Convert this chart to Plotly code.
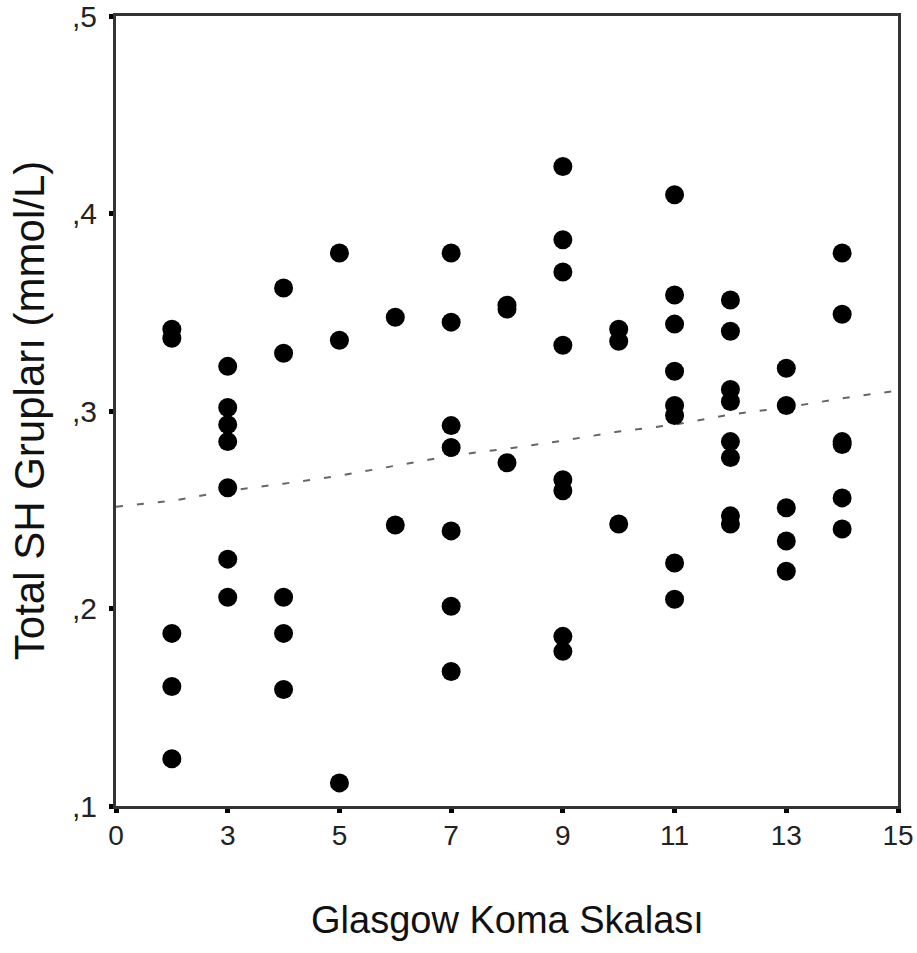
import plotly.graph_objects as go

# Scatter data: Glasgow Koma Skalası (x) vs Total SH Grupları (y)
gcs = [2, 2, 2, 2, 2,
       3, 3, 3, 3, 3, 3, 3,
       4, 4, 4, 4, 4,
       5, 5, 5,
       6, 6,
       7, 7, 7, 7, 7, 7, 7,
       8, 8, 8,
       9, 9, 9, 9, 9, 9, 9, 9,
       10, 10, 10,
       11, 11, 11, 11, 11, 11, 11, 11,
       12, 12, 12, 12, 12, 12, 12, 12,
       13, 13, 13, 13, 13,
       14, 14, 14, 14, 14, 14]
total_sh = [0.3368, 0.3414, 0.1874, 0.1605, 0.1239,
            0.3226, 0.3018, 0.2931, 0.2845, 0.2611, 0.2250, 0.2057,
            0.3623, 0.3292, 0.2057, 0.1874, 0.1590,
            0.3800, 0.3358, 0.1117,
            0.3475, 0.2423,
            0.3800, 0.3450, 0.2926, 0.2815, 0.2393, 0.2011, 0.1681,
            0.3536, 0.3516, 0.2738,
            0.4238, 0.3867, 0.3704, 0.3333, 0.2652, 0.2596, 0.1859, 0.1783,
            0.3414, 0.3353, 0.2428,
            0.4095, 0.3587, 0.3440, 0.3201, 0.3028, 0.2977, 0.2230, 0.2047,
            0.3562, 0.3404, 0.3109, 0.3048, 0.2845, 0.2764, 0.2469, 0.2428,
            0.3216, 0.3028, 0.2510, 0.2342, 0.2189,
            0.3800, 0.3490, 0.2845, 0.2830, 0.2560, 0.2403]

# Fit line
fit_x = [1, 2, 3, 4, 5, 6, 7, 8, 9, 10, 11, 12, 13, 14, 15]
fit_y = [0.2515, 0.2545, 0.2596, 0.2632, 0.2672, 0.2723, 0.2774, 0.2809,
         0.2850, 0.2896, 0.2931, 0.2982, 0.3018, 0.3064, 0.3104]

x_tickvals = [1, 3, 5, 7, 9, 11, 13, 15]
x_ticktext = ["0", "3", "5", "7", "9", "11", "13", "15"]
y_tickvals = [0.1, 0.2, 0.3, 0.4, 0.5]
y_ticktext = [",1", ",2", ",3", ",4", ",5"]

FONT = "Liberation Sans, Arial, sans-serif"
TICKFONT = "Liberation Sans Narrow, Liberation Sans, Arial, sans-serif"

fig = go.Figure()
fig.add_trace(go.Scatter(
    x=fit_x, y=fit_y, mode="lines",
    line=dict(color="#666666", width=2, dash="7px,14px"),
    hoverinfo="skip", showlegend=False))
fig.add_trace(go.Scatter(
    x=gcs, y=total_sh, mode="markers",
    marker=dict(color="black", size=19, line=dict(width=0)),
    showlegend=False))

fig.update_layout(
    width=917, height=953,
    margin=dict(l=116, r=19, t=16, b=147),
    paper_bgcolor="white", plot_bgcolor="white",
    font=dict(family=FONT, color="#222222"),
    xaxis=dict(range=[1, 15], tickvals=x_tickvals, ticktext=x_ticktext,
               showgrid=False, zeroline=False, showline=True, mirror=True,
               linecolor="#333333", linewidth=3,
               ticks="outside", ticklen=4, tickwidth=5, tickcolor="black",
               tickfont=dict(size=28, family=TICKFONT, color="#222222"),
               ticklabelstandoff=-2, ticklabeloverflow="allow", automargin=False),
    yaxis=dict(range=[0.1, 0.5], tickvals=y_tickvals, ticktext=y_ticktext,
               showgrid=False, zeroline=False, showline=True, mirror=True,
               linecolor="#333333", linewidth=3,
               ticks="outside", ticklen=4, tickwidth=5, tickcolor="black",
               tickfont=dict(size=30, family=TICKFONT, color="#222222"),
               ticklabelstandoff=6, ticklabeloverflow="allow", automargin=False),
    annotations=[
        dict(text="Glasgow Koma Skalası", xref="paper", yref="paper",
             x=0.5, y=-0.144, xanchor="center", yanchor="middle",
             showarrow=False, font=dict(size=38, family=FONT, color="#111111")),
        dict(text="Total SH Grupları (mmol/L)", xref="paper", yref="paper",
             x=-0.111, y=0.5, xanchor="center", yanchor="middle", textangle=-90,
             showarrow=False, font=dict(size=42, family=FONT, color="#111111")),
    ],
)

fig.write_html("out.html", config={"displayModeBar": False},
               post_script="document.body.style.margin='0';")
